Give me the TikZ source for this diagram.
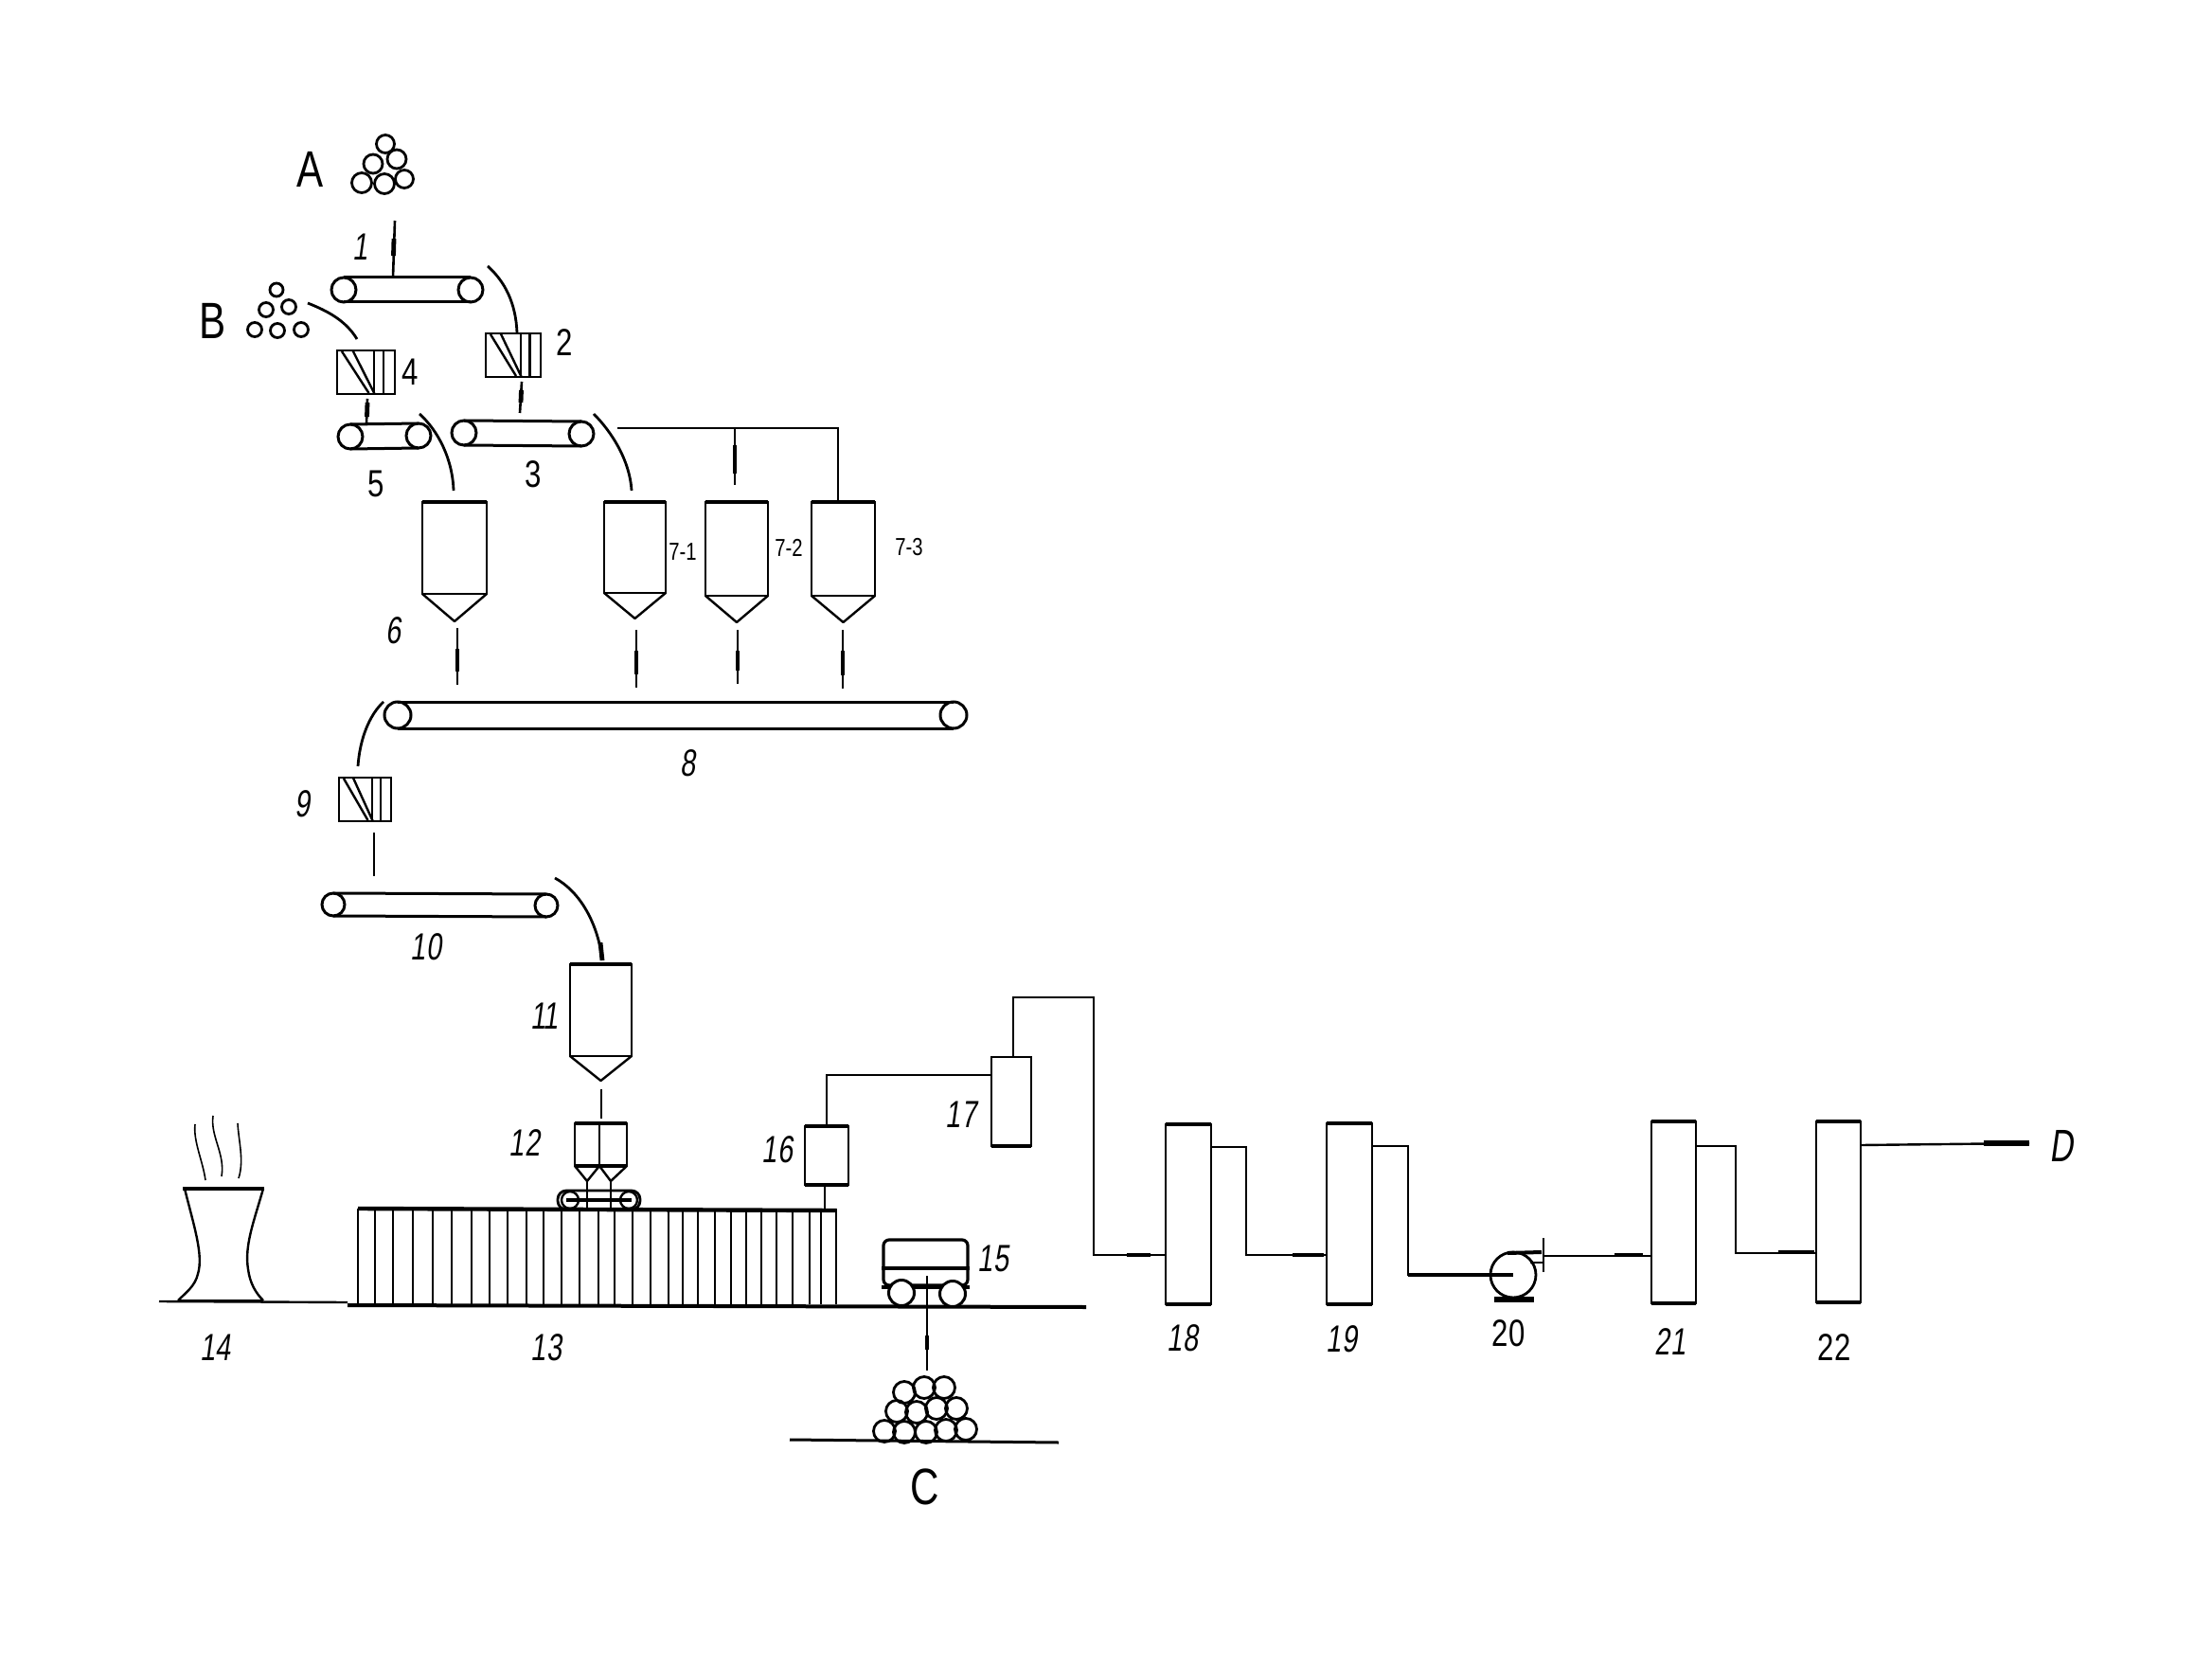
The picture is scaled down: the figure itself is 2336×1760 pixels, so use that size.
\documentclass[tikz,border=0pt]{standalone}
\usepackage{fontspec}
\setmainfont{Liberation Sans}
\newfontfamily\handfont[FakeStretch=0.78]{Liberation Sans}
\newfontfamily\handit[FakeStretch=0.72,FakeSlant=0.14]{Liberation Sans}
\usetikzlibrary{fit,calc}
\newcommand{\pxbox}[5]{\node[pbox,fit={(#2,#3)(#4,#5)}] (#1) {};}
\newcommand{\belt}[6]{% name, xl, yl, xr, yr, diameter in pt
  \node[roller,minimum size=#6] (#1l) at (#2,#3) {};
  \node[roller,minimum size=#6] (#1r) at (#4,#5) {};
  \draw[beltline] (#1l.north) -- (#1r.north);
  \draw[beltline] (#1l.south) -- (#1r.south);}
\newcommand{\silo}[6]{% name, x1, x2, top, shoulder, tip
  \node[pbox,fit={(#2,#4)(#3,#5)}] (#1) {};
  \draw[wire,line join=round] (#1.south west) -- ({(#2+#3)/2},#6) coordinate (#1tip) -- (#1.south east);
  \draw[line width=1.7pt] (#1.north west) -- (#1.north east);}
\newcommand{\crusher}[1]{%
  \draw[wire] ($(#1.north west)+(5,1)$) -- ($(#1.south west)!0.5!(#1.south east)+(3,-1)$);
  \draw[wire] ($(#1.north west)!0.27!(#1.north east)$) -- ($(#1.south west)!0.65!(#1.south east)$);
  \draw[wire] ($(#1.north west)!0.64!(#1.north east)$) -- ($(#1.south west)!0.64!(#1.south east)$);
  \draw[wire] ($(#1.north west)!0.8!(#1.north east)$) -- ($(#1.south west)!0.8!(#1.south east)$);}
\tikzset{
  x=0.5pt,y=-0.5pt,
  wire/.style={line width=1.2pt,black},
  heavy/.style={line width=2.2pt,black},
  beltline/.style={line width=1.5pt,black},
  pbox/.style={draw=black,line width=1.2pt,fill=white,inner sep=0pt,outer sep=0pt},
  roller/.style={circle,draw=black,line width=1.5pt,fill=white,inner sep=0pt,outer sep=0pt},
  chute/.style={line width=1.4pt,black},
  feed/.style={line width=1.3pt,black},
  lab/.style={font=\fontsize{20}{20}\handfont,inner sep=0pt},
  labit/.style={font=\fontsize{20}{20}\handit,inner sep=0pt},
  labsm/.style={font=\fontsize{13}{13}\handfont,inner sep=0pt},
  labbig/.style={font=\fontsize{27}{27}\handfont,inner sep=0pt},
}
\begin{document}
\begin{tikzpicture}
\useasboundingbox (0,0) rectangle (2336,1760);
% raw material piles
\foreach \x/\y/\r in {407/152/9.5,419/168/10,394/173/10,382/193/10.5,406/194/10.5,427/189/9.5}
  \draw[line width=1.4pt] (\x,\y) circle[radius=\r];
\foreach \x/\y/\r in {292/306/7,281/327/7.5,305/324/7.5,269/348/7.5,293/349/7.5,318/348/7.5}
  \draw[line width=1.4pt] (\x,\y) circle[radius=\r];
\node[labbig] (lA) at (328,179) {A};
\node[labbig] (lB) at (225,339) {B};
\node[labbig] (lC) at (977,1570) {C};
\node[labbig,font=\fontsize{24}{24}\handit] (lD) at (2177,1210) {D};
% conveyors
\belt{cA}{363}{306}{497}{306}{13pt}
\belt{cC}{490}{457}{614}{458}{13pt}
\belt{cB}{370}{461}{442}{460}{13pt}
\belt{cH}{420}{755}{1007}{755}{14pt}
\belt{cJ}{352}{955}{577}{956}{12pt}
% crushers
\pxbox{b2}{513}{352}{571}{398}\crusher{b2}
\pxbox{b4}{356}{370}{417}{416}\crusher{b4}
\pxbox{b9}{358}{821}{413}{867}\crusher{b9}
% silos
\silo{s6}{446}{514}{530}{627}{656}
\silo{s71}{638}{703}{530}{626}{653}
\silo{s72}{745}{811}{530}{629}{657}
\silo{s73}{857}{924}{530}{629}{657}
\silo{s11}{602}{667}{1018}{1115}{1141}
% feed lines and chutes
\coordinate (fA) at (417,233);
\draw[feed] (fA) -- (cAl.north -| 415,0) ;
\draw[line width=2.4pt] (416,252) -- (415.5,270);
\draw[chute] (515,281) .. controls (533,297) and (545,320) .. (b2.north -| 546,0);
\draw[chute] (325,320) .. controls (345,328) and (365,338) .. (377,358);
\draw[feed] (b2.south -| 551,0) ++(0,5) -- (549,436);
\draw[line width=2.4pt] (550.5,412) -- (550,425);
\draw[feed] (388,421) -- (387,447);
\draw[line width=2.4pt] (388,425) -- (387.5,440);
\draw[chute] (443,437) .. controls (463,455) and (478,485) .. (479,518);
\draw[chute] (627,437) .. controls (645,455) and (665,485) .. (667,518);
\coordinate (hdr) at (652,452);
\draw[wire] (hdr) -| (s73.north -| 885,0);
\draw[wire] (hdr -| 776,0) -- (776,512);
\draw[line width=2.2pt] (776,470) -- (776,500);
\foreach \s/\x/\a/\b in {s6/483/663/723,s71/672/665/726,s72/779/665/722,s73/890/665/727}{
  \draw[feed] (\x,\a) -- (\x,\b);
  \draw[line width=2.4pt] (\x,\a+22) -- (\x,\b-14);}
\draw[chute] (405,741) .. controls (390,755) and (380,780) .. (378,809);
\draw[feed] (395,879) -- (395,925);
\draw[chute] (586,927) .. controls (610,940) and (630,970) .. (636,1012);
\draw[line width=2.4pt] (634,995) -- (636,1014);
\draw[feed] (635,1150) -- (635,1181);
% batch hopper 12
\node[pbox,fit={(607,1186)(662,1231)}] (h12) {};
\draw[heavy] (h12.north west) -- (h12.north east);
\draw[wire] (633,1186) -- (633,1231);
\draw[heavy] (h12.south west) -- (h12.south east);
\draw[wire] (607,1231) -- (620,1247) -- (633,1231) -- (645,1247) -- (662,1231);
\node[draw=black,line width=1.4pt,rounded corners=4.6pt,inner sep=0pt,fit={(589,1257)(676,1277)}] (tr) {};
\draw[wire] (602,1267) circle[radius=9];
\draw[wire] (664,1267) circle[radius=9];
\draw[line width=1.8pt] (598,1267) -- (667,1267);
\draw[wire] (620,1247) -- (620,1277);
\draw[wire] (645,1247) -- (645,1277);
% furnace 13
\foreach \x in {378,396,415,436,457,477,498,517,536,556,574,593,612,632,649,668,687,706,721,737,755,772,788,804,820,837,855,867,883}
  \draw[line width=1.1pt] (\x,1276) -- (\x,1377);
\coordinate (fT1) at (378,1276); \coordinate (fT2) at (883,1278);
\draw[line width=2.2pt] (fT1) -- (fT2);
% ground
\coordinate (g0) at (168,1374); \coordinate (g1) at (367,1375);
\coordinate (g2) at (367,1378); \coordinate (g3) at (1147,1380);
\draw[wire] (g0) -- (g1);
\draw[line width=2pt] (g2) -- (g3);
% tower 14
\draw[line width=1.2pt] (195,1255) .. controls (205,1295) and (215,1325) .. (209,1345) .. controls (206,1358) and (196,1365) .. (188,1373);
\draw[line width=1.2pt] (278,1255) .. controls (268,1290) and (258,1315) .. (262,1340) .. controls (264,1355) and (270,1365) .. (278,1373);
\draw[heavy] (193,1255) -- (279,1255);
\draw[wire] (188,1373) -- (278,1373);
\draw[line width=0.8pt] (206,1187) .. controls (204,1205) and (214,1225) .. (217,1246);
\draw[line width=0.8pt] (225,1178) .. controls (222,1200) and (238,1218) .. (234,1242);
\draw[line width=0.8pt] (251,1186) .. controls (252,1205) and (258,1225) .. (252,1244);
% cart 15
\node[draw=black,line width=1.6pt,fill=white,rounded corners=3pt,inner sep=0pt,fit={(933,1309)(1022,1357)}] (cart) {};
\draw[line width=1.8pt] (cart.west |- 0,1339) -- (cart.east |- 0,1339);
\draw[line width=2pt] (cart.south west) -- (cart.south east);
\node[roller,minimum size=13.5pt] (w1) at (952,1365) {};
\node[roller,minimum size=13.5pt] (w2) at (1006,1366) {};
\draw[wire] (979,1347) -- (979,1447);
\draw[line width=2.2pt] (979,1410) -- (979,1425);
% product pile
\foreach \x/\y in {955/1470,976/1465,997/1465,947/1490,968/1491,989/1487,1010/1487,934/1511,955/1512,978/1512,999/1510,1020/1509}
  \draw[line width=1.4pt] (\x,\y) circle[radius=11.5];
\coordinate (p0) at (834,1520); \coordinate (p1) at (1118,1523);
\draw[line width=1.5pt] (p0) -- (p1);
% gas train boxes
\pxbox{b16}{850}{1189}{896}{1251}
\pxbox{b17}{1047}{1116}{1089}{1210}
\pxbox{b18}{1231}{1187}{1279}{1377}
\pxbox{b19}{1401}{1186}{1449}{1377}
\pxbox{b21}{1744}{1184}{1791}{1376}
\pxbox{b22}{1918}{1184}{1965}{1375}
\foreach \b in {b16,b18,b19,b21,b22}{
  \draw[heavy] (\b.north west) -- (\b.north east);
  \draw[line width=1.8pt] (\b.south west) -- (\b.south east);}
\draw[line width=1.8pt] (b17.south west) -- (b17.south east);
% gas pipes
\draw[wire] (fT2 -| 871,0) -- (b16.south -| 871,0);
\draw[wire] (b16.north -| 873,0) |- (b17.west |- 0,1135);
\draw[wire] (b17.north -| 1070,0) |- (1155,1053) |- (b18.west |- 0,1325);
\draw[line width=2.4pt] (1190,1325) -- (1215,1325);
\draw[wire] (b18.east |- 0,1211) -| (1316,1325) -- (b19.west |- 0,1325);
\draw[line width=2.4pt] (1365,1325) -- (1398,1325);
% pump 20
\node[circle,draw=black,line width=1.4pt,fill=white,minimum size=24pt,inner sep=0pt,outer sep=0pt] (pump) at (1598,1346) {};
\draw[line width=3pt] (1578,1372) -- (1620,1372);
\draw[line width=2pt] (1592,1323) -- (1628,1322);
\draw[wire] (1630,1307) -- (1630,1343);
\draw[wire] (1616,1333) -- (1630,1333);
\draw[wire] (b19.east |- 0,1210) -| (1487,1346) -- (pump.center);
\draw[line width=1.6pt] (1487,1346) -- (1598,1346);
\coordinate (pOut) at (1630,1326);
\draw[wire] (pOut) -- (b21.west |- pOut);
\draw[line width=2.4pt] (1705,1325) -- (1735,1325);
\draw[wire] (b21.east |- 0,1210) -| (1833,1323) -- (b22.west |- 0,1323);
\draw[line width=2.4pt] (1878,1322) -- (1916,1322);
\draw[wire] (b22.east |- 0,1209) -- (2143,1207);
\draw[line width=2.6pt] (2095,1207) -- (2143,1207);
% labels
\node[labit] (n1) at (381,261) {1};
\node[lab] (n2) at (596,362) {2};
\node[lab] (n3) at (563,501) {3};
\node[lab] (n4) at (433,393) {4};
\node[lab] (n5) at (397,511) {5};
\node[labit] (n6) at (416,666) {6};
\node[labsm] (n71) at (721,583) {7-1};
\node[labsm] (n72) at (833,578) {7-2};
\node[labsm] (n73) at (960,578) {7-3};
\node[labit] (n8) at (727,806) {8};
\node[labit] (n9) at (320,849) {9};
\node[labit] (n10) at (450,1000) {10};
\node[labit] (n11) at (575,1073) {11};
\node[labit] (n12) at (554,1207) {12};
\node[labit] (n13) at (577,1423) {13};
\node[labit] (n14) at (228,1423) {14};
\node[labit] (n15) at (1049,1329) {15};
\node[labit] (n16) at (821,1214) {16};
\node[labit] (n17) at (1015,1177) {17};
\node[labit] (n18) at (1249,1413) {18};
\node[labit] (n19) at (1417,1414) {19};
\node[lab] (n20) at (1593,1408) {20};
\node[labit] (n21) at (1764,1417) {21};
\node[lab] (n22) at (1937,1423) {22};
\end{tikzpicture}
\end{document}
